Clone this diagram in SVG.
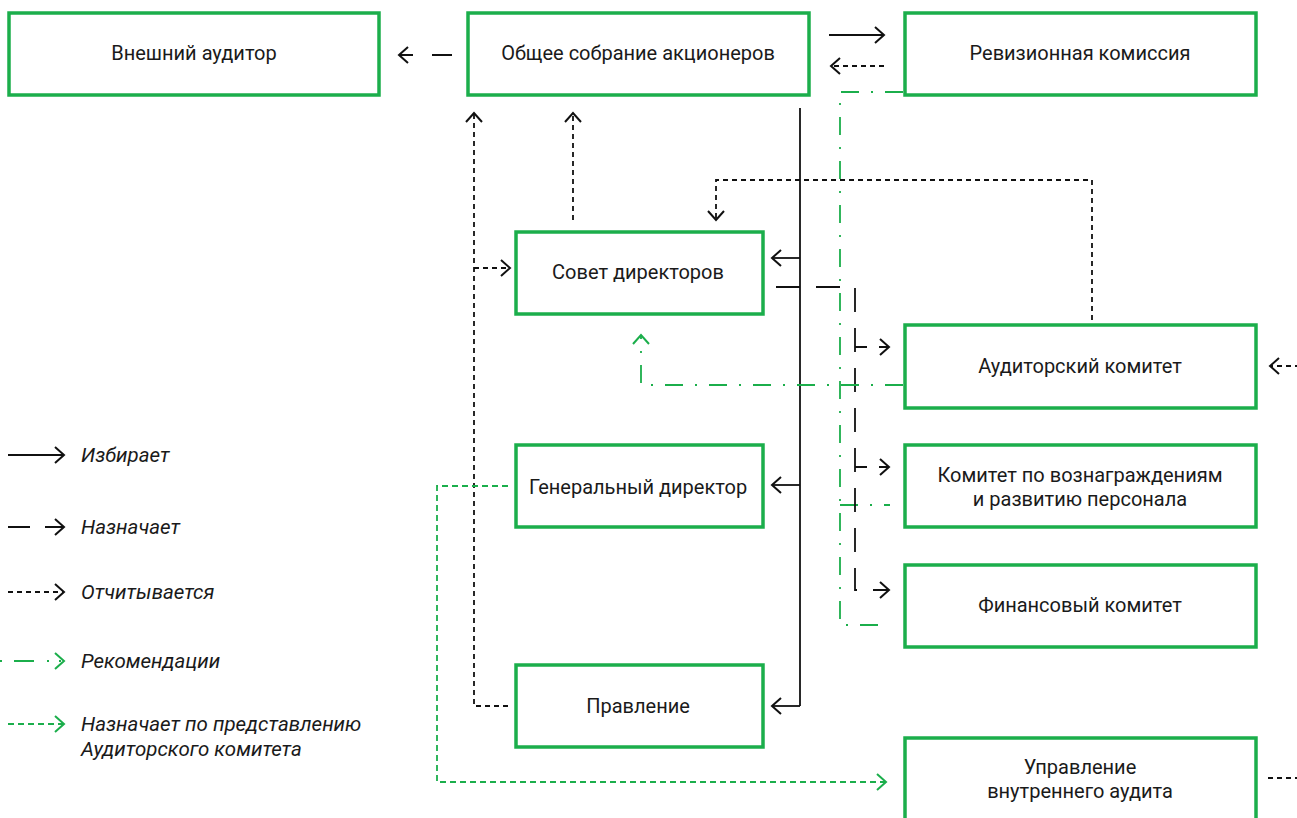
<svg xmlns="http://www.w3.org/2000/svg" width="1297" height="818" viewBox="0 0 1297 818">
<style>
.box{fill:#fff;stroke:#1bae4b;stroke-width:3.5}
.t{font-family:Roboto,"Liberation Sans",sans-serif;font-size:20px;fill:#1a1a1a;text-anchor:middle}
.lg{font-family:Roboto,"Liberation Sans",sans-serif;font-size:20.5px;font-style:italic;fill:#1a1a1a}
.c{fill:none;stroke:#111;stroke-width:1.8}
.dot{stroke-dasharray:5 4}
.long{stroke-dasharray:24 16}
.g{fill:none;stroke:#1bae4b;stroke-width:1.8}
.gdd{stroke-dasharray:18 12 2 12}
.gdot{stroke-dasharray:6 4}
.ab{marker-end:url(#ab)}
.ag{marker-end:url(#ag)}
</style>
<defs>
<marker id="ab" markerUnits="userSpaceOnUse" markerWidth="14" markerHeight="20" refX="10" refY="9" orient="auto" overflow="visible">
<path d="M1,1 L10,9 L1,17" fill="none" stroke="#111" stroke-width="2"/>
</marker>
<marker id="ag" markerUnits="userSpaceOnUse" markerWidth="14" markerHeight="20" refX="10" refY="9" orient="auto" overflow="visible">
<path d="M1,1 L10,9 L1,17" fill="none" stroke="#1bae4b" stroke-width="2"/>
</marker>
</defs>

<g id="connectors">
<path class="c ab" d="M452,55 H399" style="stroke-dasharray:20 19"/>
<path class="c ab" d="M829,35 H884"/>
<path class="c dot ab" d="M884,66 H831"/>
<path class="g gdd" d="M903,92 H840 V625 H888"/>
<path class="g gdd" d="M840,505 H890"/>
<path class="c dot ab" d="M1092,320 V180 H716 V220"/>
<path class="c dot ab" d="M573,220 V113"/>
<path class="c dot ab" d="M508,706 H474 V113"/>
<path class="c dot ab" d="M474,268 H510"/>
<path class="c" d="M800,108 V706"/>
<path class="c ab" d="M800,258 H772"/>
<path class="c ab" d="M800,485 H772"/>
<path class="c ab" d="M800,706 H772"/>
<path class="c long ab" d="M776,287 H855 V590 H889"/>
<path class="c ab" d="M855,347 H889" style="stroke-dasharray:12 12"/>
<path class="c ab" d="M855,467 H889" style="stroke-dasharray:12 12"/>
<path class="g gdd ag" d="M903,385 H641 V335"/>
<path class="g gdot ag" d="M508,486 H437 V782 H886"/>
<path class="c dot ab" d="M1268,778 H1330 V366 H1270"/>
</g>

<g id="n-auditor"><rect class="box" x="9" y="13" width="370" height="82"/><text class="t" x="194" y="60">Внешний аудитор</text></g>
<g id="n-osa"><rect class="box" x="468" y="13" width="341" height="82"/><text class="t" x="638" y="60">Общее собрание акционеров</text></g>
<g id="n-rev"><rect class="box" x="905" y="13" width="351" height="82"/><text class="t" x="1080" y="60">Ревизионная комиссия</text></g>
<g id="n-sd"><rect class="box" x="516" y="232" width="247" height="82"/><text class="t" x="638" y="279">Совет директоров</text></g>
<g id="n-ak"><rect class="box" x="905" y="325" width="351" height="83"/><text class="t" x="1080" y="373">Аудиторский комитет</text></g>
<g id="n-kv"><rect class="box" x="905" y="445" width="351" height="82"/><text class="t" x="1080" y="482">Комитет по вознаграждениям<tspan x="1080" dy="23.5">и развитию персонала</tspan></text></g>
<g id="n-fk"><rect class="box" x="905" y="565" width="351" height="82"/><text class="t" x="1080" y="612">Финансовый комитет</text></g>
<g id="n-gd"><rect class="box" x="516" y="445" width="247" height="82"/><text class="t" x="638" y="494">Генеральный директор</text></g>
<g id="n-pr"><rect class="box" x="516" y="665" width="247" height="82"/><text class="t" x="638" y="713">Правление</text></g>
<g id="n-uva"><rect class="box" x="905" y="738" width="351" height="100"/><text class="t" x="1080" y="774">Управление<tspan x="1080" dy="23.5">внутреннего аудита</tspan></text></g>

<g id="legend">
<path class="c ab" d="M8,455 H64"/>
<text class="lg" x="81" y="462">Избирает</text>
<path class="c ab" d="M8,527 H64" style="stroke-dasharray:22 15"/>
<text class="lg" x="81" y="534">Назначает</text>
<path class="c dot ab" d="M8,592 H64"/>
<text class="lg" x="81" y="599">Отчитывается</text>
<path class="g ag" d="M0,661 H64" style="stroke-dasharray:2 12 20 13 2 10"/>
<text class="lg" x="81" y="668">Рекомендации</text>
<path class="g gdot ag" d="M8,724 H64"/>
<text class="lg" x="81" y="731">Назначает по представлению<tspan x="81" dy="24.5">Аудиторского комитета</tspan></text>
</g>
</svg>
